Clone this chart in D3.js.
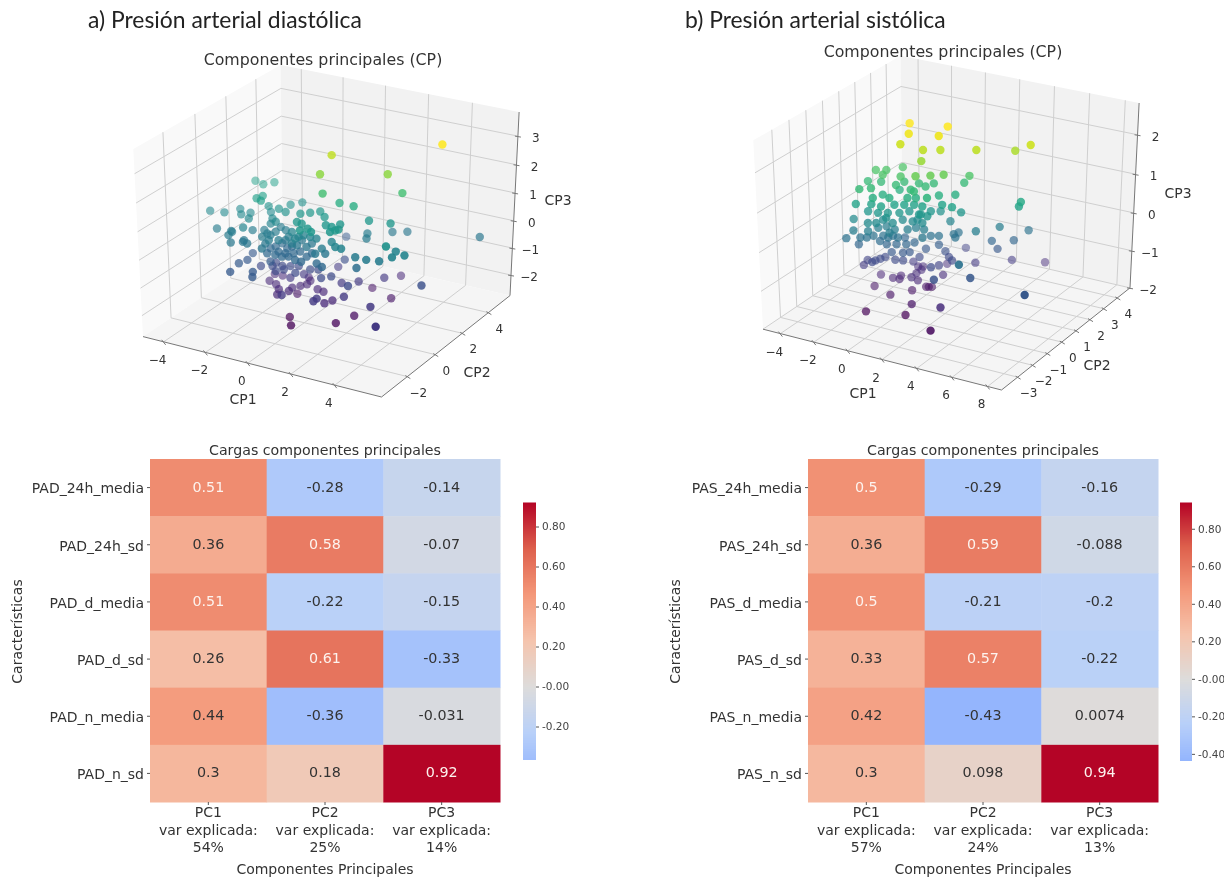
<!DOCTYPE html>
<html><head><meta charset="utf-8">
<script src="https://cdnjs.cloudflare.com/ajax/libs/d3/7.8.5/d3.min.js"></script>
<style>
html,body{margin:0;padding:0;background:#fff;overflow:hidden}
svg{display:block;filter:blur(0.6px)}
text{font-family:"DejaVu Sans",sans-serif;fill:#333}
.big{font-family:"Lato",sans-serif;fill:#222}
</style></head><body>
<svg id="c" width="1224" height="878"></svg>
<script>
// ---------- data: scores on the principal components [CP1, CP2, CP3]
const scoresDiastolic = [
[4.05,3.46,3.1],[.03,1.88,2.6],[.04,1.07,2.2],[2.38,2.23,2.2],[2.84,2.58,1.5],[.09,1.17,1.5],[-4.09,2.58,.8],[-3.61,2.44,.8],[-3.32,2.79,.8],[-3.06,1.21,.8],[-2.97,1.5,.8],[-2.77,1.09,.8],[.58,1.61,1.1],[1.24,1.6,1.1],
[-1.67,2.34,.5],[-1.96,1.95,.5],[-2.15,1.42,.5],[-2.66,1.45,.5],[-1.74,1.29,.5],[-4.8,.5,.3],[-4.2,.62,.3],[-3.83,1.17,.3],[-3.49,.76,.3],[-3.25,1.05,.3],[-2.99,.57,.3],[-2.56,1.46,.3],[-2.15,.98,.3],[-1.86,.79,.3],
[-.39,1.71,.6],[.05,1.36,.6],[-.68,1.44,.6],[-.97,1.19,.6],[-.65,.49,.6],[-.4,.45,.6],[1.8,1.84,.6],[2.69,2.0,.6],[2.22,2.89,-.1],[2.73,3.18,-.1],[5.55,4.02,-.1],[.53,.74,.6],[.82,.71,.6],[.98,1.06,.6],[1.12,.51,.6],[1.19,.63,.6],[1.02,.3,.6],[.07,.17,.6],[.36,-.02,.6],[-.11,-.09,.6],
[-.41,.24,.2],[-.32,.45,.2],[-4.03,-.12,0],[-2.85,-.01,.2],[-2.68,.38,0],[-3.4,-.05,0],[-3.26,-.42,0],[-3.32,-.1,0],[-2.27,.59,0],[-1.98,.38,0],[-1.99,.05,0],[-1.78,.31,0],[-1.78,.66,0],[-1.86,1.12,0],[-1.51,.96,0],[-1.06,.51,0],[-.59,.05,0],
[-.03,3.01,-.7],[1.55,2.12,0],[1.77,1.72,0],[-2.59,-.33,-.1],[-2.54,-.47,-.1],[-2.3,-.52,-.1],[-2.93,-.73,-.1],[-1.66,-.21,-.1],[-1.68,.16,-.4],[-1.59,.38,-.4],[-1.53,.74,-.4],[-1.09,.45,-.4],[-1.01,.66,-.4],[-.46,.21,-.1],[-.55,.68,-.1],[-.04,.25,-.1],[-.03,.6,-.1],[.31,.42,.2],[.72,.18,0],[.96,.06,-.1],[1.01,.43,.2],[1.39,.11,.2],[1.68,.08,.2],
[3.53,.38,.5],[3.71,.8,.2],[4.2,.65,.2],[3.86,.3,.2],[2.31,.11,0],[2.82,.1,0],[3.33,.22,0],[.82,1.63,-.9],[-2.49,.1,-.7],[-2.32,-.5,-.7],[-2.44,-.9,-.7],[-2.29,-1.68,-.7],[-1.5,-1.29,-.7],[-1.25,-1.67,-.7],[-1.96,-.11,-1],[-1.53,-.28,-.4],[-1.16,-.26,-.4],[-.84,-.28,-.4],[-.61,-.16,-.4],[-.2,-.3,-.4],[.1,-.33,-.4],[.03,.15,-.4],[.04,.5,-.4],[.73,-.19,-.4],[1.08,-.35,-.4],
[-1.55,.09,-1],[-1.6,.4,-1],[-1.2,.26,-1],[-.91,.4,-1],[-.62,.55,-1],[-.04,.49,-1],[.25,.63,-1],[.4,1.8,-1.3],[2.47,-.04,-.3],[-1.92,.76,-1.6],[-1.55,.77,-1.6],[-.74,.14,-1.3],[-1.75,.16,-1.6],[-.53,1.1,-1.6],[-.3,.88,-1.6],[.78,.04,-1],[1.05,.34,-1],[1.33,.65,-1.3],[2.11,-.08,-1],[1.86,1.05,-1.3],[2.58,1.78,-1.3],[2.68,2.85,-1.6],[4.77,1.02,-.9],
[-1.34,.02,-1.6],[-.98,-.31,-1.6],[-.77,-.72,-1.6],[-.17,-1.27,-1.3],[-.54,-.26,-1.6],[-.59,.05,-1.6],[-.39,.32,-1.6],[-.52,.29,-1.9],[-.24,.56,-1.6],[.39,.37,-1.6],[.72,.29,-1.6],[1.23,-.93,-1.3],[1.25,-1.18,-1.3],[1.32,-.53,-1.6],[1.47,-.2,-1.6],[2.09,-.33,-1.3],[1.86,2.04,-1.9],[3.49,-.6,-1.3],[3.03,1.6,-1.9],[2.44,-.13,-2],[2.02,-.78,-2.1],[4.59,-1.92,-1.3],[-.03,-.94,-2.2],[.43,-1.52,-2.2],
[-1.57,-.1,0],[-1.23,.07,0],[-1.13,.39,-.1],[-1.22,.04,-.4],[-.89,.04,-.4],[-.6,.18,-.4],[-.46,.42,-.4],[-1.42,-.22,-.7],[-1.17,-.23,-1],[-.97,.03,-1],[-.39,-.02,-1],[-.44,.64,-1.3],[-1.52,-.64,-.1],[0,.44,.2],[-.9,.5,.2],[-.44,.05,.2],[-2.09,.77,.2],[.61,-.11,-.1]
];
const scoresSystolic = [
[-1.09,1.19,2.3],[-.68,.68,2.2],[.79,1.55,2.3],[.77,.99,2.2],[-.87,.35,2],[4.79,2.41,2],[.22,.59,1.9],[.97,.87,1.9],[2.52,1.45,1.9],[3.99,2.33,1.8],[.36,.32,1.7],
[-2.37,.39,1.2],[-1.91,.56,1.2],[-1.74,.15,1.2],[-1.39,1.05,1.2],[-.85,.32,1.2],[.32,-.01,1.4],[.92,.28,1.4],[1.43,.56,1.4],[2.1,1.49,1.2],[1.81,1.48,1],[-2.5,.02,1],[-2.32,-.71,1],[-1.88,-.45,1],[-1.88,.19,1],[-1.01,.19,1],[-.87,.57,1],[-.05,.08,1],[-.12,.69,1],[.38,.56,1],[.53,.93,1],
[-1.06,.47,.8],[1.03,.7,.8],[1.7,1.02,.8],[-1.47,-.16,.8],[-1.68,-.56,.8],[-.17,0,.8],[.19,.14,.8],[1.27,.64,.6],[1.85,.63,.6],[2.08,.97,.4],[.86,1,.3],[4.76,1.85,.7],[4.72,1.77,.6],[-2.54,-.72,.6],[-1.86,-.47,.6],[-1.28,-.48,.6],[-.81,-.14,.6],[-.38,.02,.6],[.05,.18,.6],[.52,.19,.6],[.69,.55,.4],
[-2.05,-.48,.4],[-1.51,-.43,.4],[-1.08,-.27,.4],[-.58,-.08,.4],[-.25,.2,.4],[.39,.12,.4],[.86,.13,.4],[-2.69,-.72,.2],[-1.8,-.77,.2],[-1.36,-.28,.2],[-.72,-.36,.2],[-.5,.04,.2],[.05,.08,.2],[.58,.12,.2],[1.44,.99,.1],[3.71,1.68,0],[2.94,.97,0],[4.72,2.48,-.2],[4.22,2.06,-.4],[3.29,1.65,-.4],[3.57,1.72,-.6],[3.96,2.26,-1],[5.13,3.2,-1.2],[7.48,-1.07,-.6],[4.15,-.78,-.6],[3.8,-1.13,-.2],[2.51,1.45,-1],[1.39,2.09,-.9],
[-2.78,-1.11,-.2],[-2.46,-.99,0],[-1.93,-.72,-.2],[-2.35,-.79,-.4],[-1.55,-.39,0],[-1.29,-.14,0],[-.72,-.24,0],[-.89,-.17,-.2],[-.99,-.37,-.2],[-.56,-.21,-.2],[-1.32,-.33,-.2],[-1.75,-.49,-.2],[-.15,-.03,0],[.1,.23,0],[.57,.24,0],[.77,.45,-.2],[1.13,.58,-.2],[1.67,.95,-.2],[1.78,1.15,-.2],[1.96,.73,-.2],[-.76,.45,-.4],[-.01,.25,-.4],[.4,.54,-.6],[.96,.77,-.5],[1.18,.95,-.7],[1.46,.87,-.8],
[-.89,-.27,-.6],[-.35,-.13,-.6],[-.1,.03,-.6],[-1.57,-.59,-.8],[-1.46,-.39,-.8],[-1.35,-.19,-.8],[-1.6,-.76,-.8],[-.74,-.21,-.8],[-.35,-.13,-.8],[-2.29,-.57,-1],[-.31,.49,-1],[.09,.58,-1.2],[-.27,.76,-1.2],[-.05,.84,-1.2],[.08,.26,-1.2],[1.31,-.15,-.8],[1.3,.39,-.9],[.85,1.44,-1.2],[1.81,.68,-.8],[2.45,-1.23,-.7],[1.37,.58,-1.2],[-1.65,-.17,-1.3],[-.9,-.2,-1.3],[-.69,.09,-1.3],[-.54,-.17,-1.3],[.12,-.11,-1.2],[.36,.04,-1.3],
[-1.68,-.56,-1.5],[.25,-.22,-1.5],[-.43,-.89,-1.5],[.66,.25,-1.5],[.78,.29,-1.5],[.92,.34,-1.5],[1.1,-1.18,-1.5],[3.25,-1.7,-1.2],[-.93,-1.92,-1.7],[1.03,-1.51,-1.7],[3.29,-2.39,-1.6],
[-1.77,-.8,0],[-.73,-.56,0],[-1.37,-.49,-.3],[-1.12,-.33,-.4],[-.69,-.17,-.4],[.78,-.1,-.1],[.47,.15,.4],[.15,.28,.2],[.94,.03,.9],[.2,.01,1],[-.96,-.29,.8],[-1.44,-.63,.2],[-2.21,-.83,-.2],[-1.08,-.38,.3],[-.26,-.01,-.4],[.16,.38,-.8],[-2.19,-.43,-.9]
];
// ---------- data: axes of the 3D views
const ticksCP1a=[-4,-2,0,2,4], ticksCP2a=[-2,0,2,4], ticksCP3a=[-2,-1,0,1,2,3];
const ticksCP1b=[-4,-2,0,2,4,6,8], ticksCP2b=[-3,-2,-1,0,1,2,3,4], ticksCP3b=[-2,-1,0,1,2];
const limitsCP1a=[-5,6.1], limitsCP2a=[-3.8,5.7], limitsCP3a=[-2.77,3.83];
const limitsCP1b=[-5.05,8.77], limitsCP2b=[-4.06,4.95], limitsCP3b=[-2,2.79];
// ---------- data: heatmaps
const loadingsRowsD=["PAD_24h_media","PAD_24h_sd","PAD_d_media","PAD_d_sd","PAD_n_media","PAD_n_sd"];
const loadingsRowsS=["PAS_24h_media","PAS_24h_sd","PAS_d_media","PAS_d_sd","PAS_n_media","PAS_n_sd"];
const pcNames=["PC1","PC2","PC3"];
const varExplainedD=["54%","25%","14%"], varExplainedS=["57%","24%","13%"];
const loadingsD=[[0.51,-0.28,-0.14],[0.36,0.58,-0.07],[0.51,-0.22,-0.15],[0.26,0.61,-0.33],[0.44,-0.36,-0.031],[0.3,0.18,0.92]];
const loadingsS=[[0.5,-0.29,-0.16],[0.36,0.59,-0.088],[0.5,-0.21,-0.2],[0.33,0.57,-0.22],[0.42,-0.43,0.0074],[0.3,0.098,0.94]];
const cbarTicksD=[0.8,0.6,0.4,0.2,0,-0.2], cbarTicksS=[0.8,0.6,0.4,0.2,0,-0.2,-0.4];
const coolwarmStops=["#3b4cc0","#6282ea","#8db0fe","#b8d0f9","#dddcdb","#f5c4ad","#f4987a","#de614d","#b40426"];

const svg=d3.select("#c");

// ---------- 3D projection (unit cube, elev 30, azim -60, dist 10)
function rawProject(a,b,c){
  const xp=.866*a+.5*b, yp=-.25*a+.433*b+.866*c, d=10-(.433*a-.75*b+.5*c);
  return [xp/d,yp/d,d];
}
function scatter3D(cfg){
  const g=svg.append("g");
  const nx=d3.scaleLinear().domain(cfg.limX).range([-.5,.5]),
        ny=d3.scaleLinear().domain(cfg.limY).range([-.5,.5]),
        nz=d3.scaleLinear().domain(cfg.limZ).range([-.5,.5]);
  const sX=d3.scaleLinear().domain([rawProject(-.5,-.5,-.5)[0],rawProject(.5,.5,-.5)[0]]).range(cfg.xPx);
  const sY=d3.scaleLinear().domain([rawProject(.5,-.5,-.5)[1],rawProject(.5,.5,.5)[1]]).range(cfg.yPx);
  const P=(x,y,z)=>{const r=rawProject(nx(x),ny(y),nz(z));return [sX(r[0]),sY(r[1]),r[2]];};
  const [x0,x1]=cfg.limX,[y0,y1]=cfg.limY,[z0,z1]=cfg.limZ;
  const poly=pts=>pts.map(p=>P(...p).slice(0,2).join(",")).join(" ");
  g.append("polygon").attr("points",poly([[x0,y0,z0],[x0,y1,z0],[x0,y1,z1],[x0,y0,z1]])).attr("fill","#f9f9f9");
  g.append("polygon").attr("points",poly([[x0,y1,z0],[x1,y1,z0],[x1,y1,z1],[x0,y1,z1]])).attr("fill","#f2f2f2");
  g.append("polygon").attr("points",poly([[x0,y0,z0],[x1,y0,z0],[x1,y1,z0],[x0,y1,z0]])).attr("fill","#f5f5f5");
  const seg=(a,b,col,w)=>{const p=P(...a),q=P(...b);
    g.append("line").attr("x1",p[0]).attr("y1",p[1]).attr("x2",q[0]).attr("y2",q[1]).attr("stroke",col).attr("stroke-width",w);};
  const gc="#cfcfcf";
  cfg.tx.forEach(t=>{seg([t,y0,z0],[t,y1,z0],gc,1);seg([t,y1,z0],[t,y1,z1],gc,1);});
  cfg.ty.forEach(t=>{seg([x0,t,z0],[x1,t,z0],gc,1);seg([x0,t,z0],[x0,t,z1],gc,1);});
  cfg.tz.forEach(t=>{seg([x0,y0,t],[x0,y1,t],gc,1);seg([x0,y1,t],[x1,y1,t],gc,1);});
  const ec="#777";
  seg([x0,y0,z0],[x1,y0,z0],ec,1);seg([x1,y0,z0],[x1,y1,z0],ec,1);seg([x1,y1,z0],[x1,y1,z1],ec,1);
  const lab=(s,x,y,a,fs)=>g.append("text").attr("x",x).attr("y",y).attr("text-anchor",a||"middle").attr("dominant-baseline","central").attr("font-size",fs||12).text(s);
  const num=t=>String(t).replace("-","\u2212");
  cfg.tx.forEach(t=>{const p=P(t,y0,z0);
    g.append("line").attr("x1",p[0]-2).attr("y1",p[1]-2).attr("x2",p[0]+2).attr("y2",p[1]+3).attr("stroke",ec);
    lab(num(t),p[0]-6,p[1]+cfg.txOff,"middle");});
  cfg.ty.forEach(t=>{const p=P(x1,t,z0);
    g.append("line").attr("x1",p[0]-2).attr("y1",p[1]-1).attr("x2",p[0]+3).attr("y2",p[1]+2).attr("stroke",ec);
    lab(num(t),p[0]+11,p[1]+cfg.tyOff,"middle");});
  cfg.tz.forEach(t=>{const p=P(x1,y1,t);
    g.append("line").attr("x1",p[0]-3).attr("y1",p[1]).attr("x2",p[0]+3).attr("y2",p[1]+1).attr("stroke",ec);
    lab(num(t),p[0]+18,p[1]+2,"middle");});
  lab("CP1",cfg.l1[0],cfg.l1[1],"middle",14);
  lab("CP2",cfg.l2[0],cfg.l2[1],"middle",14);
  lab("CP3",cfg.l3[0],cfg.l3[1],"middle",14);
  lab("Componentes principales (CP)",cfg.title[0],cfg.title[1],"middle",15.8);
  // points with depth shading
  const data=cfg.data.map(d=>({d,p:P(d[0],d[1],d[2])})).sort((a,b)=>b.p[2]-a.p[2]);
  const col=d3.scaleSequential(d3.interpolateViridis).domain(d3.extent(cfg.data,d=>d[2]));
  const alpha=d3.scaleLinear().domain(d3.extent(data,d=>d.p[2])).range([1,.5]);
  g.selectAll("circle").data(data).join("circle")
    .attr("cx",d=>d.p[0]).attr("cy",d=>d.p[1]).attr("r",4.2)
    .attr("fill",d=>col(d.d[2])).attr("opacity",d=>alpha(d.p[2]));
}
scatter3D({data:scoresDiastolic,limX:limitsCP1a,limY:limitsCP2a,limZ:limitsCP3a,tx:ticksCP1a,ty:ticksCP2a,tz:ticksCP3a,
  xPx:[143,510],yPx:[397,112],txOff:18,tyOff:16,l1:[243,399],l2:[477,372],l3:[558,200],title:[323,59]});
scatter3D({data:scoresSystolic,limX:limitsCP1b,limY:limitsCP2b,limZ:limitsCP3b,tx:ticksCP1b,ty:ticksCP2b,tz:ticksCP3b,
  xPx:[763,1130],yPx:[390,103],txOff:18,tyOff:16,l1:[863,393],l2:[1097,365],l3:[1178,193],title:[943,51]});

// ---------- heatmaps
function coolwarm(t){return d3.scaleLinear().domain(d3.range(9).map(i=>i/8)).range(coolwarmStops).interpolate(d3.interpolateRgb)(t);}
function heat(cfg){
  const g=svg.append("g");
  const flat=cfg.values.flat(), vmin=d3.min(flat), vmax=d3.max(flat), vr=Math.max(Math.abs(vmin),Math.abs(vmax));
  const norm=d3.scaleLinear().domain([-vr,vr]).range([0,1]);
  const X=d3.scaleBand().domain(pcNames).range(cfg.xr), Y=d3.scaleBand().domain(cfg.rows).range(cfg.yr);
  cfg.values.forEach((row,i)=>row.forEach((v,j)=>{
    const x=X(pcNames[j]),y=Y(cfg.rows[i]);
    g.append("rect").attr("x",x).attr("y",y).attr("width",X.bandwidth()+.5).attr("height",Y.bandwidth()+.5).attr("fill",coolwarm(norm(v)));
    g.append("text").attr("x",x+X.bandwidth()/2).attr("y",y+Y.bandwidth()/2-1).attr("text-anchor","middle").attr("dominant-baseline","central")
      .attr("font-size",14.3).style("fill",v>=0.5?"#fdf3ee":"#333").text(String(v));
  }));
  const ya=g.append("g").attr("transform",`translate(${cfg.xr[0]},0)`).call(d3.axisLeft(Y).tickSize(3).tickPadding(3));
  ya.select(".domain").remove();
  ya.selectAll("text").attr("font-size",14).attr("dy",".42em").style("font-family",'"DejaVu Sans"').style("fill","#333");
  ya.selectAll("line").attr("stroke","#555");
  pcNames.forEach((n,j)=>{
    const cx=X(n)+X.bandwidth()/2;
    g.append("line").attr("x1",cx).attr("x2",cx).attr("y1",cfg.yr[1]).attr("y2",cfg.yr[1]+3).attr("stroke","#555");
    [n,"var explicada:",cfg.expl[j]].forEach((s,k)=>g.append("text").attr("x",cx).attr("y",cfg.yr[1]+[10,28,45][k]).attr("text-anchor","middle")
      .attr("dominant-baseline","central").attr("font-size",14).text(s));
  });
  const midX=(cfg.xr[0]+cfg.xr[1])/2;
  g.append("text").attr("x",midX).attr("y",cfg.yr[1]+67).attr("text-anchor","middle").attr("dominant-baseline","central").attr("font-size",14).text("Componentes Principales");
  g.append("text").attr("x",midX).attr("y",cfg.yr[0]-9).attr("text-anchor","middle").attr("dominant-baseline","central").attr("font-size",14.2).text("Cargas componentes principales");
  g.append("text").attr("transform",`translate(${cfg.ylabX},${(cfg.yr[0]+cfg.yr[1])/2+1}) rotate(-90)`).attr("text-anchor","middle").attr("dominant-baseline","central").attr("font-size",14).text("Características");
  // colorbar
  const C=d3.scaleLinear().domain([vmin,vmax]).range(cfg.cby);
  const top=cfg.cby[1],bot=cfg.cby[0];
  d3.range(top,bot+.5,1).forEach(py=>g.append("rect").attr("x",cfg.cbx).attr("y",py).attr("width",cfg.cbw).attr("height",1.5).attr("fill",coolwarm(norm(C.invert(py)))));
  const ca=g.append("g").attr("transform",`translate(${cfg.cbx+cfg.cbw},0)`).call(d3.axisRight(C).tickValues(cfg.cbt).tickSize(3).tickPadding(3)
      .tickFormat(t=>(t===0?"-":"")+d3.format(".2f")(t).replace("\u2212","-")));
  ca.select(".domain").remove();
  ca.selectAll("text").attr("font-size",10.5).style("font-family",'"DejaVu Sans"').style("fill","#444");
  ca.selectAll("line").attr("stroke","#555");
}
heat({rows:loadingsRowsD,values:loadingsD,expl:varExplainedD,xr:[150,500],yr:[459,802],ylabX:17,cbx:523,cbw:13,cby:[758.5,502.5],cbt:cbarTicksD});
heat({rows:loadingsRowsS,values:loadingsS,expl:varExplainedS,xr:[808,1158],yr:[459,802],ylabX:675,cbx:1180,cbw:12,cby:[759.5,502.5],cbt:cbarTicksS});

// ---------- panel headings
svg.append("text").attr("class","big").attr("x",88).attr("y",28).attr("font-size",22.9).text("a) Presión arterial diastólica");
svg.append("text").attr("class","big").attr("x",685).attr("y",28).attr("font-size",22.9).text("b) Presión arterial sistólica");
</script></body></html>
